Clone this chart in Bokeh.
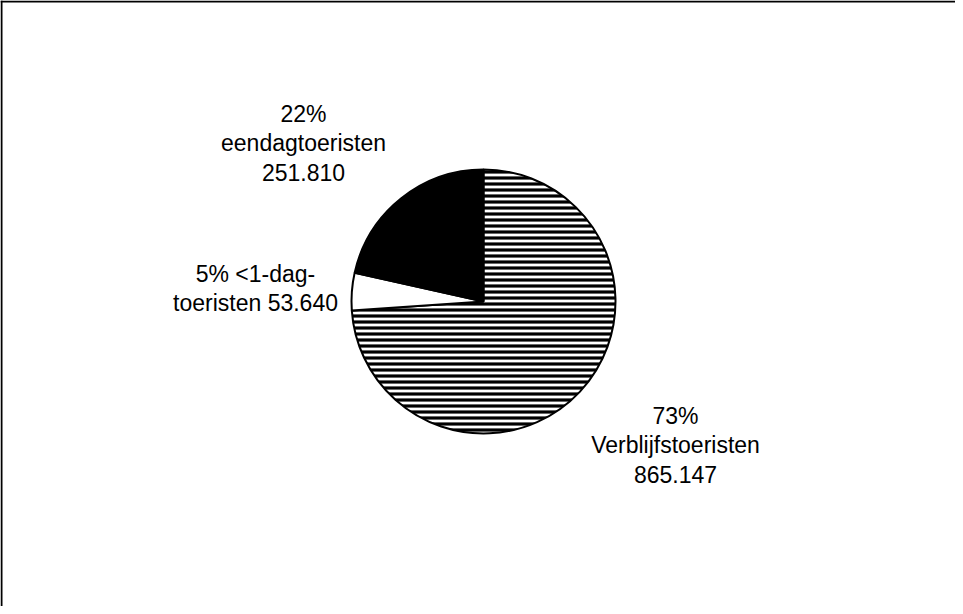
import math
from bokeh.plotting import figure
from bokeh.models import Range1d, ColumnDataSource, Span
from bokeh.core.properties import value
from bokeh.embed import file_html
from bokeh.resources import INLINE

# Data
categories = ["Verblijfstoeristen", "<1-dag-toeristen", "eendagtoeristen"]
visitors = [865147, 53640, 251810]
percentages = [73, 5, 22]
fills = ["white", "white", "black"]
hatches = ["horizontal_line", " ", " "]

W, H = 955, 606
p = figure(width=W, height=H, output_backend="svg", toolbar_location=None,
           x_range=Range1d(0, W), y_range=Range1d(0, H), min_border=0,
           match_aspect=False)
p.axis.visible = False
p.grid.visible = False
p.outline_line_color = None
p.background_fill_color = "white"
p.border_fill_color = "white"

total = sum(visitors)
starts, ends = [], []
cum = 0.0
for v in visitors:
    starts.append(math.pi / 2 - 2 * math.pi * cum / total)
    cum += v
    ends.append(math.pi / 2 - 2 * math.pi * cum / total)

src = ColumnDataSource(dict(start=starts, end=ends, fill=fills, hatch=hatches))
cx, cy, r = 483, 305, 132
p.wedge(x=cx, y=cy, radius=r, start_angle="start", end_angle="end",
        direction="clock", source=src, fill_color="fill",
        hatch_pattern="hatch", hatch_color="black", hatch_scale=6, hatch_weight=3.2,
        line_color="black", line_width=2)

def fmt(n):
    return f"{n:,}".replace(",", ".")

labels = [
    f"{percentages[0]}%\n{categories[0]}\n{fmt(visitors[0])}",
    f"{percentages[1]}% <1-dag-\ntoeristen {fmt(visitors[1])}",
    f"{percentages[2]}%\n{categories[2]}\n{fmt(visitors[2])}",
]
lx = [675, 255, 303]
ly = [161, 318, 463]
p.text(x=lx, y=ly, text=labels, text_align="center", text_baseline="middle",
       text_font=value("Liberation Sans"), text_font_size="23px",
       text_line_height=1.15, text_color="black")

# chart area frame (top and left edges visible)
p.add_layout(Span(location=H - 1, dimension="width", line_color="black", line_width=2))
p.add_layout(Span(location=1, dimension="height", line_color="black", line_width=2))

open("out.html", "w").write(file_html(p, INLINE))
